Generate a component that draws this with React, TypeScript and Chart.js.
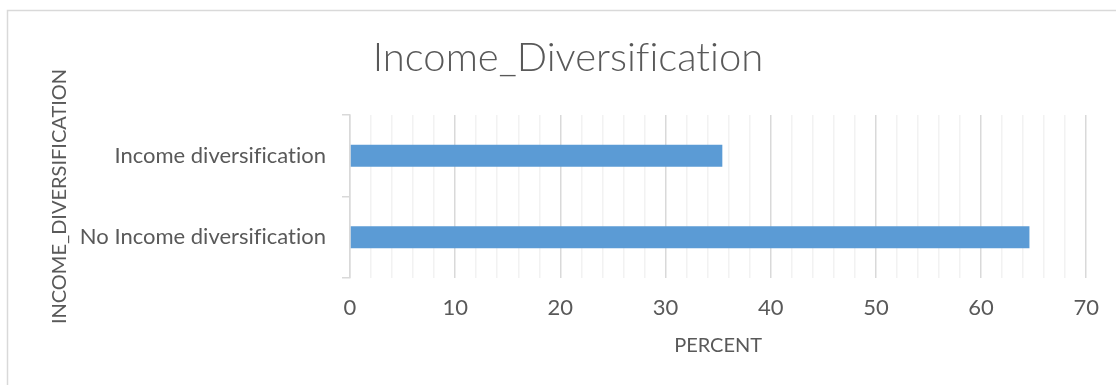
import React, { useEffect, useRef } from "react";
import { Chart, registerables } from "chart.js";

Chart.register(...registerables);

const categories = ["Income diversification", "No Income diversification"];
const percentValues = [35.4, 64.6];
const xTickMax = 70;
const chartTitle = "Income_Diversification";
const yAxisTitle = "INCOME_DIVERSIFICATION";
const xAxisTitle = "PERCENT";

const TEXT = "#595959";
const FONT = "Lato, 'Open Sans', sans-serif";

const borderPlugin = {
  id: "outerBorder",
  beforeDraw(chart: any) {
    const ctx = chart.ctx;
    ctx.textRendering = "optimizeSpeed";
    ctx.save();
    ctx.fillStyle = "#ffffff";
    ctx.fillRect(0, 0, chart.width, chart.height);
    ctx.strokeStyle = "#d9d9d9";
    ctx.lineWidth = 1.5;
    ctx.beginPath();
    ctx.moveTo(7.5, chart.height + 5);
    ctx.lineTo(7.5, 10.5);
    ctx.lineTo(chart.width + 5, 10.5);
    ctx.stroke();
    ctx.restore();
  },
};

export default function App() {
  const ref = useRef<HTMLCanvasElement | null>(null);
  useEffect(() => {
    if (!ref.current) return;
    const chart = new Chart(ref.current, {
      type: "bar",
      data: {
        labels: categories,
        datasets: [
          {
            data: percentValues,
            backgroundColor: "#5b9bd5",
            borderWidth: 0,
            categoryPercentage: 1,
            barPercentage: 0.27,
          },
        ],
      },
      options: {
        indexAxis: "y",
        animation: false,
        responsive: false,
        maintainAspectRatio: false,
        layout: { padding: { left: 48, right: 28, top: 34, bottom: 26 } },
        plugins: {
          legend: { display: false },
          tooltip: { enabled: false },
          title: {
            display: true,
            text: chartTitle,
            color: TEXT,
            font: { family: FONT, size: 40, weight: "300" as any },
            padding: { top: 0, bottom: 33 },
          },
        },
        scales: {
          x: {
            type: "linear",
            min: 0,
            max: xTickMax,
            afterFit(scale: any) {
              scale.height = 385 - 278 - 26;
            },
            ticks: {
              stepSize: 2,
              autoSkip: false,
              maxRotation: 0,
              color: TEXT,
              font: { family: FONT, size: 22 },
              padding: 17,
              callback: (v: any) => (Number(v) % 10 === 0 ? String(v) : ""),
            },
            grid: {
              drawTicks: false,
              color: (c: any) =>
                c.tick && Number(c.tick.value) % 10 === 0 ? "#d9d9d9" : "#f2f2f2",
              lineWidth: 1.5,
            },
            border: { display: false },
            title: {
              display: true,
              text: xAxisTitle,
              color: TEXT,
              font: { family: FONT, size: 20 },
              padding: { top: 4, bottom: 1 },
            },
          },
          y: {
            afterFit(scale: any) {
              scale.width = 350 - 48;
            },
            ticks: {
              color: TEXT,
              font: { family: FONT, size: 22 },
              padding: 16,
            },
            grid: {
              drawOnChartArea: false,
              drawTicks: true,
              tickLength: 8,
              color: "#d9d9d9",
              lineWidth: 1.5,
              offset: true,
            },
            border: { display: true, color: "#d9d9d9", width: 1.5 },
            title: {
              display: true,
              text: yAxisTitle,
              color: TEXT,
              font: { family: FONT, size: 20 },
              padding: { top: 0, bottom: 0 },
            },
          },
        },
      },
      plugins: [borderPlugin],
    });
    return () => chart.destroy();
  }, []);
  return (
    <div style={{ position: "fixed", left: 0, top: 0, width: 1116, height: 385 }}>
      <canvas ref={ref} width={1116} height={385} style={{ width: 1116, height: 385 }} />
    </div>
  );
}
